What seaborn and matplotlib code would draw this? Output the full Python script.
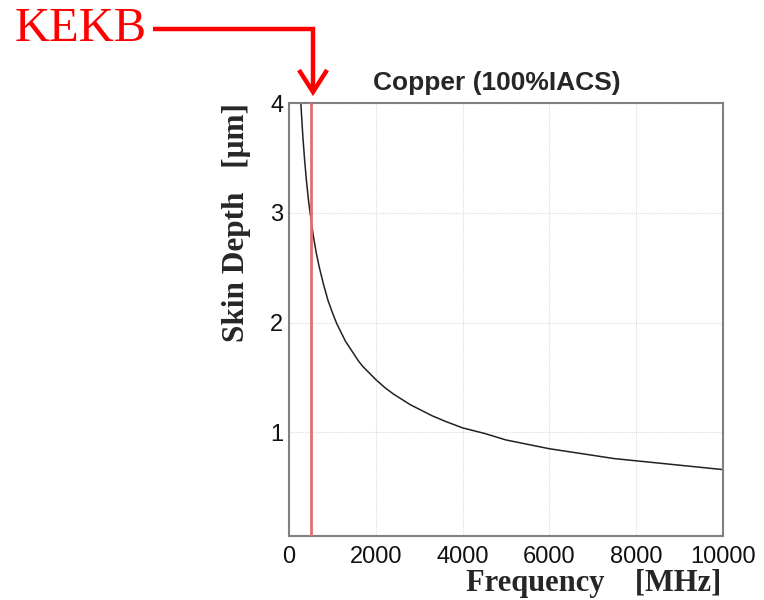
import numpy as np
import pandas as pd
import matplotlib
matplotlib.use("Agg")
import matplotlib.pyplot as plt
from matplotlib.lines import Line2D
import seaborn as sns

# Data
freq_mhz = [250, 280, 320, 360, 400, 450, 500, 560, 630, 700, 800, 900, 1000,
            1100, 1200, 1300, 1400, 1500, 1600, 1700, 1800, 1900, 2000, 2200,
            2400, 2600, 2800, 3000, 3300, 3600, 4000, 4500, 5000, 5500, 6000,
            6500, 7000, 7500, 8000, 9000, 10000]
skin_depth_um = [4.18, 3.95, 3.69, 3.48, 3.30, 3.11, 2.96, 2.79, 2.63, 2.50,
                 2.34, 2.20, 2.09, 1.99, 1.91, 1.83, 1.77, 1.71, 1.65, 1.60,
                 1.56, 1.52, 1.48, 1.41, 1.35, 1.30, 1.25, 1.21, 1.15, 1.10,
                 1.04, 0.99, 0.93, 0.89, 0.85, 0.82, 0.79, 0.76, 0.74, 0.70,
                 0.66]
kekb_freq = 508.9
x_ticks = [0, 2000, 4000, 6000, 8000, 10000]
y_ticks = [1, 2, 3, 4]

df = pd.DataFrame({"f": freq_mhz, "d": skin_depth_um})

sns.set_style("whitegrid")
W, H = 764, 600
fig = plt.figure(figsize=(W / 100, H / 100), dpi=100)
ax = fig.add_axes([289 / W, 1 - 536 / H, 434 / W, 433 / H])

sns.lineplot(data=df, x="f", y="d", ax=ax, color="#222222", linewidth=1.1)
ax.axvline(kekb_freq, color="#e07070", linewidth=2.0, zorder=3)

ax.set_xlim(0, 10000)
ax.set_ylim(0.055, 4.0)
ax.set_xticks(x_ticks)
ax.set_yticks(y_ticks)
ax.set_xticklabels([str(t) for t in x_ticks])
ax.set_yticklabels([str(t) for t in y_ticks])
ax.tick_params(axis="both", length=0, labelsize=17, labelcolor="#111111",
               labelfontfamily="Liberation Sans")
ax.tick_params(axis="x", pad=7)
ax.tick_params(axis="y", pad=4)
ax.grid(True, color="#dcdcdc", linewidth=0.8, linestyle=(0, (1, 1)))
for s in ax.spines.values():
    s.set_color("#808080")
    s.set_linewidth(1.5)
ax.set_xlabel("")
ax.set_ylabel("")

fig.text(497 / W, 1 - 83 / H, "Copper (100%IACS)", ha="center", va="center",
         fontsize=19, fontweight="bold", family="Liberation Sans")
fig.text(594 / W, 1 - 583 / H, "Frequency    [MHz]", ha="center", va="center",
         fontsize=22, fontweight="bold", family="Liberation Serif")
fig.text(237 / W, 1 - 222 / H, "Skin Depth   [\u03bcm]", ha="center", va="center",
         rotation=90, fontsize=22.5, fontweight="bold", family="Liberation Serif")

# KEKB annotation
fig.text(15 / W, 1 - 29 / H, "KEKB", ha="left", va="center", color="red",
         fontsize=35, family="Liberation Serif")

def fx(p):
    return p / W

def fy(p):
    return 1 - p / H

fig.add_artist(Line2D([fx(153), fx(313), fx(313)], [fy(29), fy(29), fy(91)],
                      color="red", linewidth=3.2, solid_joinstyle="miter",
                      solid_capstyle="butt", transform=fig.transFigure))
fig.add_artist(Line2D([fx(299), fx(313), fx(327)], [fy(70), fy(92), fy(70)],
                      color="red", linewidth=3.2, solid_joinstyle="miter",
                      solid_capstyle="butt", transform=fig.transFigure))

fig.savefig("out.png", dpi=100)
